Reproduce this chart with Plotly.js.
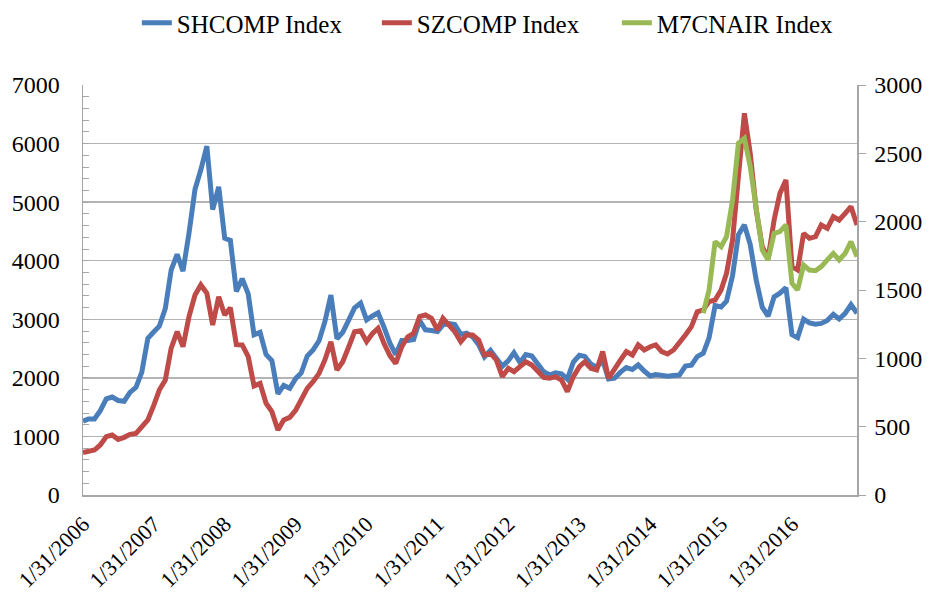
<!DOCTYPE html>
<html>
<head>
<meta charset="utf-8">
<script src="https://cdn.plot.ly/plotly-3.0.1.min.js"></script>
<style>
  html, body { margin: 0; padding: 0; background: #ffffff; }
  #chart { width: 931px; height: 597px; }
</style>
</head>
<body>
<div id="chart"></div>
<script>
// Month-end observations, Jan 2006 .. Dec 2016
const startYear = 2006;
const monthCount = 132;

const shcomp = [
  1258, 1299, 1298, 1440, 1641, 1672, 1613, 1601, 1752, 1838, 2099, 2675,
  2786, 2881, 3184, 3841, 4110, 3821, 4471, 5219, 5552, 5955, 4872, 5262,
  4383, 4349, 3473, 3693, 3433, 2736, 2776, 2397, 2294, 1729, 1871, 1821,
  1991, 2083, 2373, 2478, 2633, 2959, 3412, 2668, 2779, 2996, 3195, 3277,
  2989, 3052, 3109, 2871, 2592, 2398, 2638, 2639, 2656, 2979, 2820, 2808,
  2791, 2905, 2928, 2912, 2743, 2762, 2702, 2567, 2359, 2468, 2333, 2199,
  2293, 2428, 2263, 2396, 2372, 2225, 2104, 2048, 2086, 2069, 1980, 2269,
  2385, 2366, 2237, 2178, 2301, 1979, 1994, 2098, 2175, 2142, 2221, 2116,
  2033, 2056, 2033, 2026, 2039, 2048, 2202, 2217, 2364, 2420, 2683, 3235,
  3210, 3310, 3748, 4442, 4612, 4277, 3664, 3206, 3053, 3383, 3445, 3539,
  2738, 2688, 3004, 2938, 2917, 2930, 2979, 3085, 3005, 3100, 3250, 3104
];

const szcomp = [
  310, 317, 329, 366, 427, 439, 407, 422, 444, 451, 500, 549,
  658, 768, 841, 1073, 1195, 1085, 1305, 1463, 1537, 1476, 1244, 1451,
  1317, 1370, 1100, 1098, 1012, 798, 817, 671, 610, 476, 549, 568,
  622, 695, 780, 829, 890, 988, 1122, 915, 975, 1085, 1195, 1202,
  1122, 1178, 1220, 1110, 1020, 963, 1085, 1158, 1183, 1305, 1317, 1293,
  1207, 1293, 1244, 1195, 1122, 1171, 1171, 1134, 1024, 1037, 988, 866,
  927, 902, 939, 975, 951, 902, 860, 854, 866, 841, 756, 866,
  939, 975, 927, 915, 1049, 854, 927, 988, 1049, 1024, 1098, 1061,
  1085, 1098, 1049, 1032, 1061, 1110, 1171, 1232, 1341, 1354, 1415, 1427,
  1500, 1622, 1866, 2329, 2793, 2500, 2085, 1817, 1732, 2012, 2207, 2305,
  1671, 1646, 1915, 1878, 1890, 1976, 1951, 2036, 2012, 2061, 2110, 1976
];

// M7CNAIR Index starts Oct 2014 (month index 105)
const m7StartIndex = 105;
const m7cnair = [
  1330, 1500, 1854, 1817, 1890, 2158, 2573, 2610, 2402, 2085, 1793, 1720,
  1915, 1927, 1976, 1549, 1500, 1683, 1646, 1641, 1671, 1720, 1768, 1720,
  1768, 1854, 1744
];

const tickDates = ['2006-01-31','2007-01-31','2008-01-31','2009-01-31','2010-01-31','2011-01-31',
                   '2012-01-31','2013-01-31','2014-01-31','2015-01-31','2016-01-31'];
const tickLabels = ['1/31/2006','1/31/2007','1/31/2008','1/31/2009','1/31/2010','1/31/2011',
                    '1/31/2012','1/31/2013','1/31/2014','1/31/2015','1/31/2016'];

// month-end date categories
const dates = [];
for (let i = 0; i < monthCount; i++) {
  const y = startYear + Math.floor(i / 12);
  const m = i % 12;
  const last = new Date(Date.UTC(y, m + 1, 0)).getUTCDate();
  dates.push(y + '-' + String(m + 1).padStart(2, '0') + '-' + String(last).padStart(2, '0'));
}
const m7Dates = dates.slice(m7StartIndex, m7StartIndex + m7cnair.length);

const FONT = 'Liberation Serif, Times New Roman, serif';
const GRID = '#b4b4b4';
const LINEW = 5;

const traces = [
  { x: dates, y: shcomp, name: 'SHCOMP Index', type: 'scatter', mode: 'lines',
    line: { color: '#4a7ebb', width: LINEW }, yaxis: 'y' },
  { x: dates, y: szcomp, name: 'SZCOMP Index', type: 'scatter', mode: 'lines',
    line: { color: '#be4b48', width: LINEW }, yaxis: 'y2' },
  { x: m7Dates, y: m7cnair, name: 'M7CNAIR Index', type: 'scatter', mode: 'lines',
    line: { color: '#98b954', width: LINEW }, yaxis: 'y2' }
];

const layout = {
  width: 931, height: 597,
  margin: { l: 83, r: 74, t: 85, b: 102 },
  paper_bgcolor: '#ffffff', plot_bgcolor: '#ffffff',
  font: { family: FONT, size: 22, color: '#000000' },
  showlegend: true,
  legend: {
    orientation: 'h', x: 0.147, xanchor: 'left', xref: 'container',
    y: 1.0, yanchor: 'top', yref: 'container',
    font: { family: FONT, size: 25, color: '#000000' },
    entrywidth: 195, entrywidthmode: 'pixels', tracegroupgap: 0
  },
  xaxis: {
    type: 'date',
    range: [dates[0], dates[dates.length - 1]],
    tickmode: 'array', tickvals: tickDates, ticktext: tickLabels,
    tickangle: -45,
    tickfont: { family: FONT, size: 22, color: '#000000' },
    showgrid: false, zeroline: false,
    showline: true, linecolor: '#a6a6a6', linewidth: 1.5,
    ticks: '', ticklabelstandoff: 6
  },
  yaxis: {
    range: [0, 7000], dtick: 1000, tick0: 0,
    showgrid: true, gridcolor: GRID, gridwidth: 1.5,
    zeroline: false,
    showline: true, linecolor: '#a6a6a6', linewidth: 1.5,
    ticks: 'inside', ticklen: 6, tickcolor: '#a6a6a6',
    minor: { dtick: 200, ticks: 'inside', ticklen: 6, tickcolor: '#a6a6a6', showgrid: false },
    tickfont: { family: FONT, size: 24, color: '#000000' },
    ticklabelstandoff: 17
  },
  yaxis2: {
    overlaying: 'y', side: 'right',
    range: [0, 3000], dtick: 500, tick0: 0,
    showgrid: false, zeroline: false,
    showline: true, linecolor: '#a6a6a6', linewidth: 1.5,
    ticks: 'outside', ticklen: 7, tickcolor: '#a6a6a6',
    tickfont: { family: FONT, size: 24, color: '#000000' },
    ticklabelstandoff: 4
  }
};

Plotly.newPlot('chart', traces, layout, { displayModeBar: false, staticPlot: true });
</script>
</body>
</html>
